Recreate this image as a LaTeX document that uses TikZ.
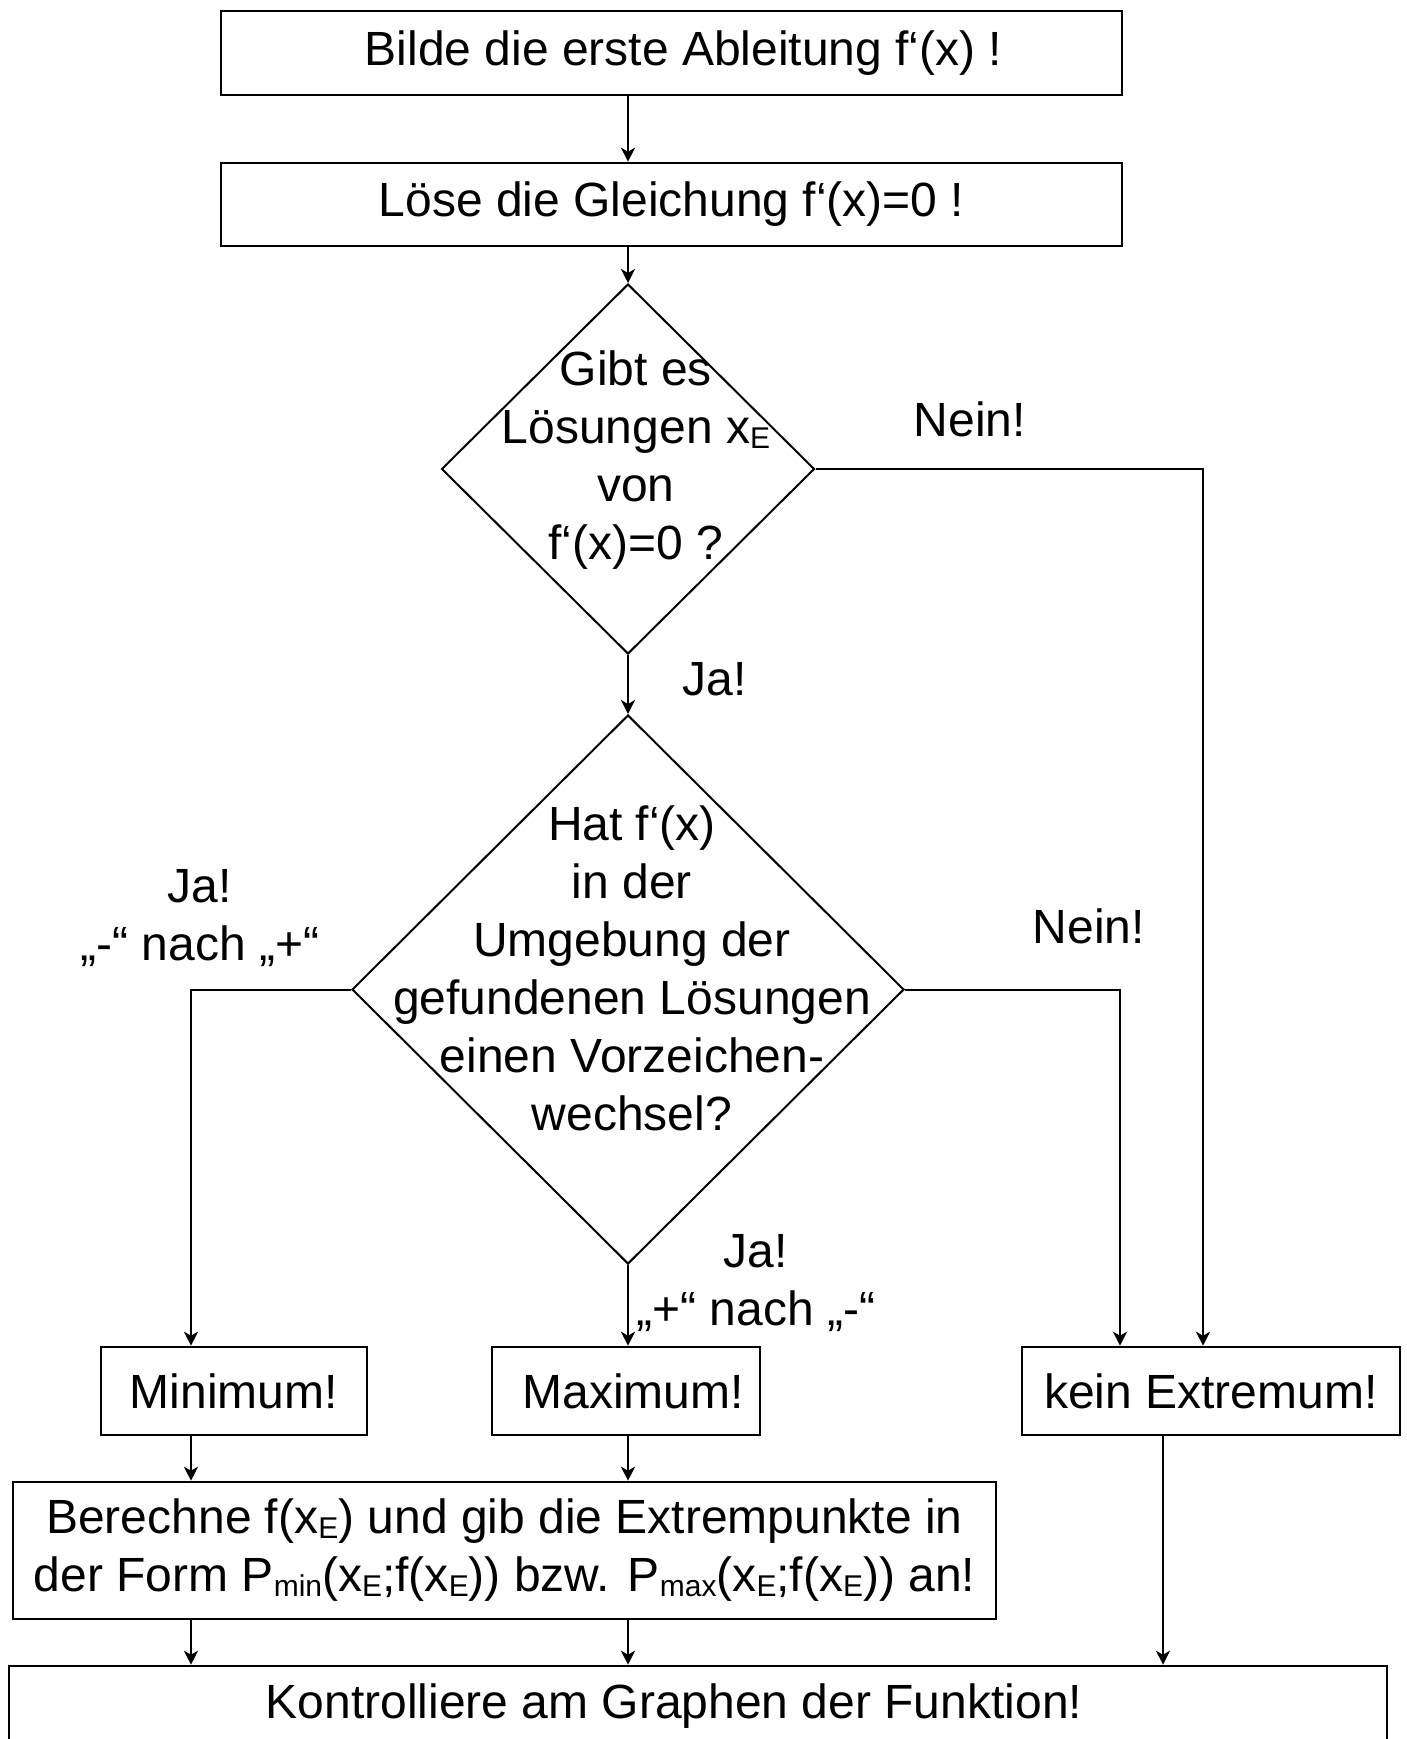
\documentclass[tikz,border=0pt]{standalone}
\usepackage{fontspec}
\setmainfont{Liberation Sans}
\usetikzlibrary{shapes.geometric,arrows.meta}
\newcommand\mysub[1]{\raisebox{-2.5pt}{\fontsize{15}{15}\selectfont #1}}
\tikzset{
  box/.style={draw, line width=1.3pt, inner sep=0pt, align=center, font=\fontsize{24}{29}\selectfont},
  dia/.style={draw, diamond, line width=1pt, inner sep=0pt},
  txt/.style={align=center, inner sep=0pt, font=\fontsize{24}{29}\selectfont},
  conn/.style={line width=1pt},
  arr/.style={line width=1pt, -{Stealth[length=7pt,width=7pt,inset=2pt]}}
}
\begin{document}
\begin{tikzpicture}[x=0.5pt,y=-0.5pt]
\useasboundingbox (0,0) rectangle (1407,1739);
\clip (0,0) rectangle (1407,1739);
% boxes
\node[box, minimum width=450.5pt, minimum height=42pt] (b1) at (671.5,53) {\hspace*{12pt}Bilde die erste Ableitung f‘(x) !};
\node[box, minimum width=450.5pt, minimum height=41.5pt] (b2) at (671.5,204.5) {Löse die Gleichung f‘(x)=0 !};
\node[dia, minimum width=186.5pt, minimum height=185pt] (d1) at (628,469) {};
\node[txt] (t1) at (636,460) {Gibt es\\Lösungen x\mysub{E}\\von\\f‘(x)=0 ?};
\node[dia, minimum width=276pt, minimum height=274.5pt] (d2) at (628,989.5) {};
\node[txt] (t2) at (632,968) {Hat f‘(x)\\in der\\Umgebung der\\gefundenen Lösungen\\einen Vorzeichen-\\wechsel?};
\node[box, minimum width=133pt, minimum height=44pt] (min) at (234,1391) {Minimum!};
\node[box, minimum width=134pt, minimum height=44pt] (max) at (626,1391) {\hspace*{7pt}Maximum!};
\node[box, minimum width=189pt, minimum height=44pt] (kein) at (1211,1391) {kein Extremum!};
\node[box, minimum width=491.5pt, minimum height=68.5pt] (ber) at (504.5,1550.5) {Berechne f(x\mysub{E}) und gib die Extrempunkte in\\der Form P\mysub{min}(x\mysub{E};f(x\mysub{E})) bzw. P\mysub{max}(x\mysub{E};f(x\mysub{E})) an!};
\node[box, minimum width=689pt, minimum height=40pt] (kon) at (698,1706) {\hspace*{-24pt}Kontrolliere am Graphen der Funktion!};
% labels
\node[txt] (l1) at (970,419) {Nein!};
\node[txt] (l2) at (715,679) {Ja!};
\node[txt] (l3) at (200,918) {Ja!\\„-“ nach „+“};
\node[txt] (l4) at (1089,926) {Nein!};
\node[txt] (l5) at (756,1283) {Ja!\\„+“ nach „-“};
% coordinates
\coordinate (c1) at (1203,469);
\coordinate (c2) at (191,989.5);
\coordinate (c3) at (1120,989.5);
\coordinate (c4) at (1163,1435);
% connectors
\draw[arr] (b1.south -| d1.north) -- (b2.north -| d1.north);
\draw[arr] (b2.south -| d1.north) -- (d1.north);
\draw[arr] (d1.south) -- (d2.north);
\draw[arr] (d1.east) -- (c1) -- (c1 |- kein.north);
\draw[arr] (d2.west) -- (c2) -- (c2 |- min.north);
\draw[arr] (d2.east) -- (c3) -- (c3 |- kein.north);
\draw[arr] (d2.south) -- (d2.south |- max.north);
\draw[arr] (c2 |- min.south) -- (c2 |- ber.north);
\draw[arr] (d2.south |- max.south) -- (d2.south |- ber.north);
\draw[arr] (c2 |- ber.south) -- (c2 |- kon.north);
\draw[arr] (d2.south |- ber.south) -- (d2.south |- kon.north);
\draw[arr] (c4 |- kein.south) -- (c4 |- kon.north);
\end{tikzpicture}
\end{document}
